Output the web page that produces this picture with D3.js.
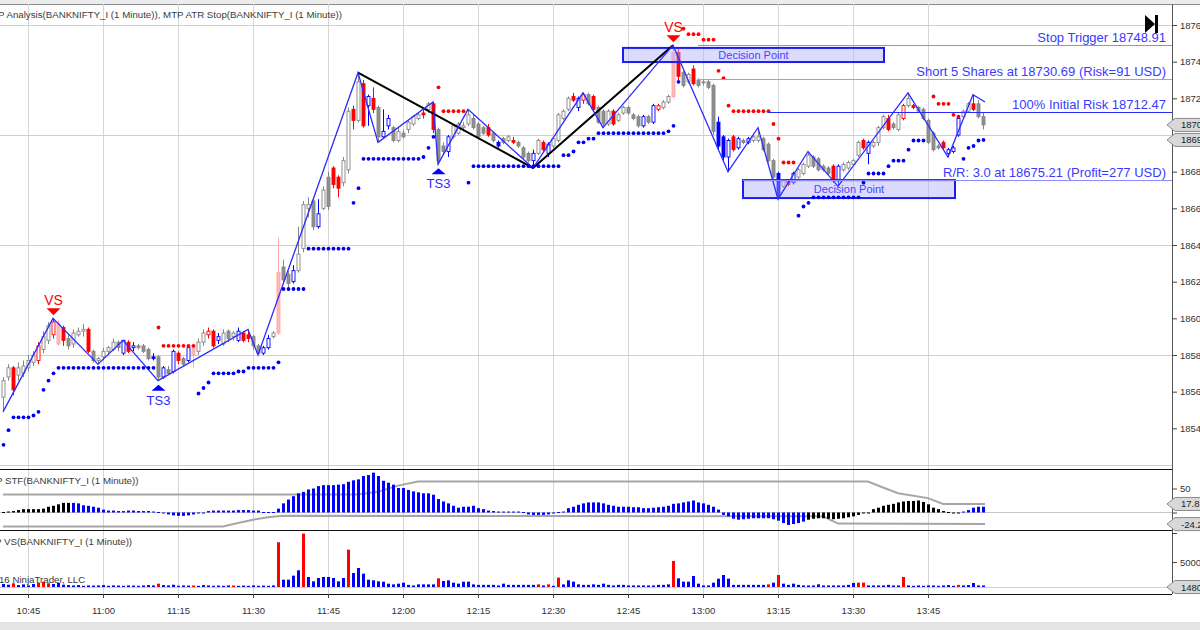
<!DOCTYPE html>
<html>
<head>
<meta charset="utf-8">
<script src="https://cdn.jsdelivr.net/npm/d3@7"></script>
<style>
body { margin: 0; background: #fff; overflow: hidden; }
svg text { font-family: "Liberation Sans", Arial, sans-serif; }
</style>
</head>
<body>
<svg id="chart" width="1200" height="630"></svg>
<script>
// 1 minute bars from 10:40, ten bars per line
var openP = [
  18557,18568,18573,18569,18570,18573,18576,18577,18583,18588,
  18591,18597,18595,18589,18586,18591,18593,18594,18582,18577,
  18579,18582,18583,18587,18581,18587,18584,18585,18585,18583,
  18579,18579,18568,18572,18571,18581,18578,18577,18585,18582,
  18587,18591,18593,18588,18586,18593,18590,18588,18592,18591,
  18590,18585,18581,18584,18590,18592,18628,18624,18620,18626,
  18638,18660,18664,18650,18660,18677,18682,18677,18674,18681,
  18714,18708,18728,18716,18720,18715,18699,18705,18704,18697,
  18701,18703,18706,18709,18712,18714,18717,18703,18694,18691,
  18699,18701,18704,18706,18709,18706,18704,18704,18701,18696,
  18698,18697,18697,18696,18693,18690,18686,18690,18696,18690,
  18694,18697,18709,18714,18721,18715,18719,18722,18721,18715,
  18713,18706,18713,18708,18712,18715,18711,18710,18705,18710,
  18707,18714,18715,18718,18721,18745,18734,18729,18736,18730,
  18729,18729,18727,18707,18699,18688,18699,18693,18697,18696,
  18697,18697,18698,18695,18686,18679,18672,18675,18674,18677,
  18679,18683,18688,18687,18683,18682,18683,18675,18681,18682,
  18684,18689,18697,18690,18694,18696,18704,18709,18706,18703,
  18709,18716,18716,18715,18714,18708,18701,18694,18696,18690,
  18691,18700,18710,18713,18717,18717,18710
];
var highP = [
  18568,18575,18574,18576,18577,18580,18582,18587,18593,18598,
  18600,18599,18596,18591,18594,18595,18597,18595,18583,18579,
  18584,18585,18589,18588,18588,18588,18587,18586,18586,18584,
  18581,18580,18574,18574,18583,18582,18579,18585,18586,18589,
  18594,18595,18594,18592,18594,18594,18593,18595,18593,18594,
  18591,18586,18585,18591,18593,18644,18632,18626,18629,18650,
  18664,18666,18666,18665,18672,18680,18683,18678,18688,18715,
  18716,18734,18730,18722,18726,18716,18714,18711,18705,18704,
  18703,18708,18711,18712,18714,18718,18718,18704,18696,18700,
  18706,18707,18707,18714,18711,18707,18705,18706,18702,18697,
  18699,18700,18699,18697,18694,18691,18692,18698,18697,18696,
  18699,18712,18714,18721,18723,18721,18723,18723,18722,18716,
  18714,18714,18714,18712,18716,18716,18712,18711,18711,18711,
  18717,18717,18719,18722,18749,18747,18735,18734,18738,18731,
  18730,18730,18728,18710,18700,18698,18700,18699,18698,18699,
  18700,18704,18699,18696,18687,18680,18676,18676,18680,18682,
  18685,18691,18689,18688,18684,18683,18684,18684,18685,18686,
  18687,18697,18698,18697,18697,18705,18711,18711,18707,18712,
  18717,18723,18717,18716,18715,18709,18702,18695,18697,18693,
  18694,18710,18714,18718,18722,18719,18712
];
var lowP = [
  18549,18566,18558,18566,18568,18571,18574,18575,18581,18586,
  18589,18585,18585,18583,18584,18590,18590,18581,18576,18575,
  18577,18580,18582,18582,18580,18581,18582,18583,18581,18577,
  18577,18566,18567,18569,18570,18575,18574,18576,18573,18580,
  18585,18589,18584,18586,18585,18587,18588,18587,18587,18587,
  18583,18580,18580,18583,18589,18591,18619,18617,18619,18625,
  18636,18655,18648,18649,18659,18659,18671,18666,18672,18679,
  18703,18707,18704,18705,18712,18696,18698,18703,18696,18696,
  18698,18701,18705,18708,18709,18712,18701,18684,18689,18688,
  18698,18700,18702,18705,18703,18698,18700,18699,18696,18693,
  18695,18696,18695,18693,18687,18685,18682,18689,18691,18688,
  18693,18696,18708,18713,18718,18713,18717,18716,18713,18706,
  18704,18705,18705,18707,18711,18711,18708,18704,18704,18706,
  18706,18713,18714,18717,18720,18730,18726,18728,18727,18726,
  18727,18725,18700,18692,18686,18680,18691,18692,18695,18695,
  18696,18696,18691,18685,18676,18665,18671,18672,18673,18676,
  18678,18682,18682,18680,18680,18678,18674,18672,18680,18681,
  18683,18688,18692,18684,18693,18694,18703,18702,18703,18702,
  18708,18715,18714,18712,18708,18695,18691,18692,18692,18688,
  18690,18699,18709,18712,18713,18709,18703
];
var closeP = [
  18566,18573,18561,18573,18574,18577,18580,18585,18590,18596,
  18598,18586,18588,18585,18592,18593,18594,18582,18577,18578,
  18582,18584,18587,18584,18588,18582,18585,18584,18582,18578,
  18578,18568,18573,18570,18582,18577,18575,18584,18580,18587,
  18592,18593,18585,18590,18592,18589,18592,18593,18588,18589,
  18585,18581,18584,18589,18592,18625,18621,18619,18626,18635,
  18662,18662,18650,18657,18670,18661,18673,18671,18686,18713,
  18708,18729,18705,18721,18714,18699,18702,18709,18697,18702,
  18699,18707,18710,18711,18711,18717,18703,18686,18691,18699,
  18705,18706,18705,18711,18704,18699,18701,18700,18697,18694,
  18696,18699,18696,18694,18688,18686,18690,18697,18692,18695,
  18698,18711,18713,18720,18719,18720,18722,18717,18714,18707,
  18706,18713,18706,18711,18715,18712,18709,18705,18710,18707,
  18716,18716,18718,18721,18745,18732,18727,18733,18728,18727,
  18729,18726,18702,18694,18688,18697,18692,18698,18696,18698,
  18699,18699,18692,18686,18677,18667,18675,18673,18679,18681,
  18684,18689,18683,18681,18681,18679,18675,18683,18684,18685,
  18686,18696,18693,18696,18696,18704,18710,18703,18704,18711,
  18716,18720,18715,18713,18709,18696,18692,18693,18693,18692,
  18693,18709,18713,18717,18714,18710,18705.5
];
// candle colour: g grey, r red, b blue, p pink
var barColors = ("ggrggggrgg" + "rprggggrgg" + "ggggbrbggg" + "bgbgbrgbpg" + "grrbgggbrr" +
                 "ggbbgpggbg" + "gggbggrrgg" + "rgrbrgbbgg" + "ggggrgrggb" + "gggggggrgb" +
                 "ggrgggbgrb" + "ggggrbrgrg" + "ggrgggggbg" + "brggprggrg" + "gggbbbrbgb" +
                 "gggggbgrbg" + "ggggggrbgg" + "ggrbgggrgg" + "rgrgggggrb" + "bbggrgg").split("");

// MTP ATR stop, one value per bar
var atrStop = [
  18531,18539,18546,18546,18546,18546,18547,18549,18561,18566,
  18570,18573,18573,18573,18573,18573,18573,18573,18573,18573,
  18573,18573,18573,18573,18573,18573,18573,18573,18573,18573,
  18573,18595,18585,18585,18585,18585,18585,18585,18585,18559,
  18562,18565,18570,18570,18570,18570,18570,18571,18571,18573,
  18573,18573,18573,18573,18573,18576,18616,18616,18616,18616,
  18616,18638,18638,18638,18638,18638,18638,18638,18638,18638,
  18663,18671,18687,18687,18687,18687,18687,18687,18687,18687,
  18687,18687,18687,18687,18688,18693,18699,18726,18713,18713,
  18713,18713,18713,18674,18683,18683,18683,18683,18683,18683,
  18683,18683,18683,18683,18683,18683,18683,18683,18683,18683,
  18683,18683,18689,18689,18691,18696,18696,18698,18698,18701,
  18701,18701,18701,18701,18701,18701,18701,18701,18701,18701,
  18701,18701,18701,18702,18705,18729,18758,18755,18755,18755,
  18752,18752,18752,18735,18731,18716,18713,18713,18713,18713,
  18713,18713,18713,18713,18706,18698,18685,18685,18685,18656,
  18661,18663,18666,18666,18666,18666,18666,18666,18666,18666,
  18666,18666,18674,18679,18679,18679,18679,18683,18686,18686,
  18686,18692,18697,18697,18697,null,18721,18717,18717,18717,
  18711,18710,18687,18693,18694,18697,18697.3
];

// zigzag swing points [bar, price]
var zigzag = [[0,18549],[10,18600],[19,18575],[24,18588],[31,18566],[49,18594],[51,18580],
  [71,18734],[75,18696],[86,18718],[87,18684],[93,18714],[106,18682],[116,18723],[120,18704],
  [134,18749],[145,18680],[151,18704],[155,18665],[161,18691],[167,18672],[181,18723],
  [189,18688],[194,18722],[196.4,18718]];
var trendLine = [[71,18734],[106,18682],[134,18749]];

var signals = [
  {bar: 10, name: "VS"}, {bar: 31, name: "TS3"}, {bar: 87, name: "TS3"}, {bar: 134, name: "VS"}
];

var zones = [
  {from: 124, to: 176.2, hi: 18747.5, lo: 18739.8, label: "Decision Point"},
  {from: 148, to: 190.4, hi: 18675.4, lo: 18665.6, label: "Decision Point"}
];

var levelPrices = [18748.91, 18730.69, 18712.47, 18675.21];
var levelLabels = ["Stop Trigger 18748.91", "Short 5 Shares at 18730.69 (Risk=91 USD)",
                   "100% Initial Risk 18712.47", "R/R: 3.0 at 18675.21 (Profit=277 USD)"];
var levelStart = [139, 139, 153, 148];
var levelColors = ["#8c8cff", "#9a9aff", "#2828ff", "#8c8cff"];

// STF histogram
var stf = [
  1,2,3,5,7,7,7,7,8,12,
  14,17,20,20,20,19,15,14,12,10,
  6,4,4,3,3,4,4,3,3,3,
  2,1,-2,-4,-6,-7,-7,-6,-4,-2,
  -1,3,4,4,4,4,4,5,5,5,
  4,4,1,1,1,8,19,27,34,40,
  43,48,50,55,57,57,57,58,59,64,
  67,69,76,78,83,76,66,62,58,51,
  51,47,44,42,40,40,37,28,23,19,
  14,10,12,12,14,9,7,4,3,2,
  2,2,2,2,1,-4,-5,-5,-5,-4,
  -1,1,2,9,12,16,19,21,21,21,
  19,16,14,12,12,12,11,11,9,9,
  10,11,12,14,18,19,21,23,25,21,
  19,16,12,6,-5,-8,-13,-15,-14,-13,
  -12,-12,-12,-12,-14,-17,-22,-26,-24,-22,
  -19,-15,-13,-12,-12,-13,-14,-13,-12,-10,
  -8,-5,-1,0,7,10,14,16,18,21,
  23,24,24,25,22,17,10,7,3,1,
  0,0,2,5,10,12,12
];
var stfColors = ("kkkkkkkkkk" + "kkkkbbbbbb" +
  "bbbbbbbbbb" + "bbbbbbbbbb" + "bbbbbbbbbb" + "bbbbbbbbbb" + "bbbbbbbbbb" + "bbbbbbbbbb" + "bbbbbbbbbb" +
  "bbbbbbbbbb" + "bbbbbbbbbb" + "bbbbbbbbbb" + "bbbbbbbbbb" + "bbbbbbbbbb" + "bbbbbbbbbb" + "bbbbbbbbbb" +
  "bkkkkkkkkk" + "kkkkkkkkkk" + "kkkkkkkkkk" + "kkbbbbb").split("");
var stfUpper = [[0,37.5],[71,37.5],[75,43],[79,56],[83,64.6],[173,64.6],[176,52],[179,40],[185,30],[188,17.8],[196.4,17.8]];
var stfLower = [[0,-29],[44,-29],[47,-22],[50,-15],[53,-10],[56,-7],[164,-8],[167,-23],[196.4,-24.2]];

// VS volume
var volume = [
  1900,1800,2000,1750,1850,1700,1900,2100,2200,2000,
  1900,2050,1800,1750,1700,1750,1650,1700,1680,1700,
  1750,1650,1700,1680,1650,1700,1680,1650,1700,1750,
  1700,1950,1750,1700,1800,1650,1700,1680,1700,1650,
  1750,1700,1650,1680,1650,1700,1700,1650,1680,1650,
  1700,1650,1680,1650,1700,7780,2510,2510,3080,3830,
  9000,2890,2280,2750,2890,2890,2750,2280,2750,6740,
  3450,4160,3360,2510,2420,2280,2230,1950,1850,1950,
  2090,1780,1700,1850,1850,1850,1850,2700,2330,2420,
  2090,1950,2230,2230,1850,1780,1780,1780,1780,1700,
  1950,1780,1780,1780,1780,1780,1780,1850,1700,1850,
  1650,2800,1850,2420,2230,1850,1780,1780,1850,1780,
  1950,1780,1700,1780,1780,1700,1700,1700,1700,1700,
  1700,1780,1780,1850,5150,2700,2230,2230,3030,1950,
  1700,1700,2090,2650,3170,2650,1780,1780,1780,1780,
  1780,1780,1780,1850,2090,3170,1950,1780,1950,1780,
  1700,1700,1700,1850,1700,1700,1700,1700,1700,1780,
  2050,2090,2090,1700,1700,1700,1700,1780,1700,1700,
  2890,1700,1650,1700,1650,1700,1700,1650,1700,1750,
  1650,1780,1700,1750,2040,1700,1700
];
var volColors = ("bbrbbbbrrr" + "bbbbbbbbbb" + "bbbbbbbbbb" + "brbbbbbbrb" + "bbbbbbrbbb" +
                 "bbbbbrbbbb" + "rbbbbbbbbr" + "bbbbbbbbbb" + "bbbbbbbrbb" + "bbbbbbbbbb" +
                 "bbbbbbbrbr" + "brbbbbbbbb" + "bbbbbbbbbb" + "bbbbrbbbbb" + "bbbbbbbbbb" +
                 "bbbrbrbbbb" + "bbbbbbbbbb" + "brrbbbbbbb" + "rbbbbbbbbb" + "brbbbbb").split("");

var priceTicks = [18540,18560,18580,18600,18620,18640,18660,18680,18700,18720,18740,18760];
var priceGrid = [18520,18580,18640,18700,18760];

var WIDTH = 1200, HEIGHT = 630;
var AXIS_X = 1172;
var TOP = 4, MAIN_BOTTOM = 469, STF_BOTTOM = 530, VS_BOTTOM = 594;
var FONT = "'Liberation Sans', Arial, sans-serif";

var svg = d3.select("#chart");
svg.append("rect").attr("width", WIDTH).attr("height", HEIGHT).attr("fill", "#fff");

var t0 = new Date(2016, 7, 1, 10, 40);
function barTime(i) { return new Date(t0.getTime() + i * 60000); }

var x = d3.scaleTime().domain([barTime(0), barTime(196)]).range([3, 983]);
var y = d3.scaleLinear().domain([18520, 18760]).range([465, 25]);
var yStf = d3.scaleLinear().domain([0, 50]).range([512.5, 488.5]);
var yVol = d3.scaleLinear().domain([1480, 5000]).range([587, 562]);

var defs = svg.append("defs");
defs.append("clipPath").attr("id", "clipMain").append("rect")
    .attr("x", 0).attr("y", TOP).attr("width", AXIS_X).attr("height", MAIN_BOTTOM - TOP);

// top strip and bottom scroll bar
svg.append("rect").attr("x", 0).attr("y", 0).attr("width", WIDTH).attr("height", TOP).attr("fill", "#ececec");
svg.append("line").attr("x1", 0).attr("x2", WIDTH).attr("y1", TOP + 0.5).attr("y2", TOP + 0.5).attr("stroke", "#8a8a8a");
svg.append("rect").attr("x", 0).attr("y", 622).attr("width", WIDTH).attr("height", 8).attr("fill", "#e4e4e4");

// grid
var timeTicks = x.ticks(d3.timeMinute.every(15));
svg.append("g").selectAll("line").data(timeTicks).enter().append("line")
    .attr("x1", function(d) { return Math.round(x(d)) + 0.5; })
    .attr("x2", function(d) { return Math.round(x(d)) + 0.5; })
    .attr("y1", TOP).attr("y2", VS_BOTTOM)
    .attr("stroke", "#d6d6d6");
svg.append("g").selectAll("line").data(priceGrid).enter().append("line")
    .attr("x1", 0).attr("x2", AXIS_X)
    .attr("y1", function(d) { return Math.round(y(d)) + 0.5; })
    .attr("y2", function(d) { return Math.round(y(d)) + 0.5; })
    .attr("stroke", "#cfcfcf");

// panel borders
[MAIN_BOTTOM, STF_BOTTOM, VS_BOTTOM].forEach(function(py) {
    svg.append("line").attr("x1", 0).attr("x2", AXIS_X).attr("y1", py + 0.5).attr("y2", py + 0.5)
        .attr("stroke", "#111");
});

var bars = d3.range(openP.length).map(function(i) {
    return {i: i, t: barTime(i), o: openP[i], h: highP[i], l: lowP[i], c: closeP[i], col: barColors[i]};
});

var CANDLE = {
    g: {line: "#858585", fill: "#8f8f8f"},
    r: {line: "#ff0000", fill: "#ff0000"},
    b: {line: "#0000ff", fill: "#0000ff"},
    p: {line: "#ffa8a8", fill: "#ffb8b8"}
};

var main = svg.append("g").attr("clip-path", "url(#clipMain)");

// candles
var candle = main.append("g").selectAll("g").data(bars).enter().append("g");
candle.append("line")
    .attr("x1", function(d) { return Math.round(x(d.t)) + 0.5; })
    .attr("x2", function(d) { return Math.round(x(d.t)) + 0.5; })
    .attr("y1", function(d) { return y(d.h); })
    .attr("y2", function(d) { return y(d.l); })
    .attr("stroke", function(d) { return CANDLE[d.col].line; });
candle.append("rect")
    .attr("x", function(d) { return Math.round(x(d.t)) - 1; })
    .attr("width", 3)
    .attr("y", function(d) { return y(Math.max(d.o, d.c)); })
    .attr("height", function(d) { return Math.max(1, Math.abs(y(d.o) - y(d.c))); })
    .attr("fill", function(d) { return (d.c < d.o || d.col == "p") ? CANDLE[d.col].fill : "#fff"; })
    .attr("stroke", function(d) { return CANDLE[d.col].line; })
    .attr("stroke-width", 0.9);

// decision point zones
var zone = main.append("g").selectAll("g").data(zones).enter().append("g");
zone.append("rect")
    .attr("x", function(d) { return x(barTime(d.from)); })
    .attr("y", function(d) { return y(d.hi); })
    .attr("width", function(d) { return x(barTime(d.to)) - x(barTime(d.from)); })
    .attr("height", function(d) { return y(d.lo) - y(d.hi); })
    .attr("fill", "rgba(175,175,250,0.45)")
    .attr("stroke", "#1c1cf0").attr("stroke-width", 2);
zone.append("text")
    .attr("x", function(d) { return (x(barTime(d.from)) + x(barTime(d.to))) / 2; })
    .attr("y", function(d) { return (y(d.lo) + y(d.hi)) / 2 + 4; })
    .attr("text-anchor", "middle")
    .attr("font-size", 11).attr("fill", "#4646ff")
    .text(function(d) { return d.label; });

// trend line and zigzag
var line = d3.line()
    .x(function(d) { return x(barTime(d[0])); })
    .y(function(d) { return y(d[1]); });
main.append("path").attr("d", line(trendLine)).attr("fill", "none")
    .attr("stroke", "#000").attr("stroke-width", 2);
main.append("path").attr("d", line(zigzag)).attr("fill", "none")
    .attr("stroke", "#2b2bff").attr("stroke-width", 1.3);

// ATR stop dots
main.append("g").selectAll("circle")
    .data(bars.filter(function(d) { return atrStop[d.i] != null; }))
    .enter().append("circle")
    .attr("cx", function(d) { return x(d.t) + 0.5; })
    .attr("cy", function(d) { return y(atrStop[d.i]); })
    .attr("r", 1.9)
    .attr("fill", function(d) { return atrStop[d.i] > d.c ? "#ff0000" : "#0000f0"; });

// signal markers
signals.forEach(function(s) {
    var cx = x(barTime(s.bar)) + 0.5;
    var b = bars[s.bar];
    if (s.name == "VS") {
        var tip = y(b.h) - 3;
        main.append("path")
            .attr("d", "M" + (cx - 7) + "," + (tip - 7) + "L" + (cx + 7) + "," + (tip - 7) + "L" + cx + "," + tip + "Z")
            .attr("fill", "#ff0000");
        main.append("text").attr("x", cx).attr("y", tip - 10).attr("text-anchor", "middle")
            .attr("font-size", 14).attr("fill", "#ff0000").text(s.name);
    } else {
        var tip2 = y(b.l) + 4;
        main.append("path")
            .attr("d", "M" + (cx - 7) + "," + (tip2 + 6) + "L" + (cx + 7) + "," + (tip2 + 6) + "L" + cx + "," + tip2 + "Z")
            .attr("fill", "#0000ff");
        main.append("text").attr("x", cx).attr("y", tip2 + 20).attr("text-anchor", "middle")
            .attr("font-size", 13).attr("fill", "#2a2aff").text(s.name);
    }
});

// trade levels
levelPrices.forEach(function(p, k) {
    var ly = Math.round(y(p)) + 0.5;
    main.append("line").attr("x1", x(barTime(levelStart[k]))).attr("x2", AXIS_X)
        .attr("y1", ly).attr("y2", ly)
        .attr("stroke", levelColors[k]).attr("stroke-width", 1.2);
    main.append("text").attr("x", 1166).attr("y", ly - 4).attr("text-anchor", "end")
        .attr("font-size", 13).attr("fill", "#3a3aff").text(levelLabels[k]);
});

// play-to-end icon
svg.append("path").attr("d", "M1145,15L1155,24L1145,33Z").attr("fill", "#000");
svg.append("rect").attr("x", 1155).attr("y", 15).attr("width", 3).attr("height", 18).attr("fill", "#000");

// STF panel
svg.append("line").attr("x1", 0).attr("x2", AXIS_X).attr("y1", yStf(0)).attr("y2", yStf(0))
    .attr("stroke", "#c8c8c8");
var bandLine = d3.line()
    .x(function(d) { return x(barTime(d[0])); })
    .y(function(d) { return yStf(d[1]); });
svg.append("path").attr("d", bandLine(stfUpper)).attr("fill", "none").attr("stroke", "#a6a6a6").attr("stroke-width", 2);
svg.append("path").attr("d", bandLine(stfLower)).attr("fill", "none").attr("stroke", "#a6a6a6").attr("stroke-width", 2);
svg.append("g").selectAll("rect").data(bars).enter().append("rect")
    .attr("x", function(d) { return Math.round(x(d.t)) - 1; })
    .attr("width", 3)
    .attr("y", function(d) { return Math.min(yStf(0), yStf(stf[d.i])); })
    .attr("height", function(d) { return Math.max(1, Math.abs(yStf(stf[d.i]) - yStf(0))); })
    .attr("fill", function(d) { return stfColors[d.i] == "k" ? "#000" : "#0000ff"; });

// VS panel
svg.append("line").attr("x1", 0).attr("x2", AXIS_X).attr("y1", yVol(1480) + 0.5).attr("y2", yVol(1480) + 0.5)
    .attr("stroke", "#d0d0d0");
svg.append("g").selectAll("rect").data(bars).enter().append("rect")
    .attr("x", function(d) { return Math.round(x(d.t)) - 1; })
    .attr("width", 3)
    .attr("y", function(d) { return yVol(volume[d.i]); })
    .attr("height", function(d) { return yVol(1480) - yVol(volume[d.i]); })
    .attr("fill", function(d) { return volColors[d.i] == "r" ? "#ff0000" : "#0000ff"; });

// panel titles (the leading part is cut by the left edge, as in the original)
function title(tx, ty, str) {
    svg.append("text").attr("x", tx).attr("y", ty).attr("font-size", 9.7).attr("fill", "#3a3a3a").text(str);
}
title(-16, 18, "MTP Analysis(BANKNIFTY_I (1 Minute)), MTP ATR Stop(BANKNIFTY_I (1 Minute))");
title(-18, 484, "MTP STF(BANKNIFTY_I (1 Minute))");
title(-19, 545, "MTP VS(BANKNIFTY_I (1 Minute))");
title(-19, 583, "\u00a92016 NinjaTrader, LLC");

// axes
svg.append("line").attr("x1", AXIS_X + 0.5).attr("x2", AXIS_X + 0.5).attr("y1", TOP).attr("y2", VS_BOTTOM)
    .attr("stroke", "#555");

function styleAxis(g) {
    g.select(".domain").remove();
    g.attr("font-family", FONT);
    g.selectAll("text").attr("font-size", 9.5).attr("fill", "#333");
    g.selectAll("line").attr("stroke", "#444");
}
// the 18700 label sits behind the value markers, so only its mark shows
svg.append("g").attr("transform", "translate(" + AXIS_X + ",0)")
    .call(d3.axisRight(y).tickValues(priceTicks).tickSize(5).tickPadding(3)
        .tickFormat(function(d) { return d == 18700 ? "" : d3.format("d")(d); }))
    .call(styleAxis);
svg.append("g").attr("transform", "translate(" + AXIS_X + ",0)")
    .call(d3.axisRight(yStf).tickValues([50, 0]).tickSize(5).tickPadding(3)
        .tickFormat(function(d) { return d == 0 ? "" : d; }))
    .call(styleAxis);
svg.append("g").attr("transform", "translate(" + AXIS_X + ",0)")
    .call(d3.axisRight(yVol).tickValues([5000]).tickSize(5).tickPadding(3).tickFormat(d3.format("d")))
    .call(styleAxis);
svg.append("line").attr("x1", AXIS_X).attr("x2", AXIS_X + 5).attr("y1", 533.5).attr("y2", 533.5).attr("stroke", "#444");

svg.append("g").attr("transform", "translate(0," + VS_BOTTOM + ")")
    .call(d3.axisBottom(x).ticks(d3.timeMinute.every(15)).tickFormat(d3.timeFormat("%H:%M")).tickSize(4).tickPadding(9))
    .call(styleAxis);

// value markers on the price scale
function marker(my, str) {
    svg.append("path")
        .attr("d", "M1167," + my + "L1175," + (my - 6.5) + "L1201," + (my - 6.5) + "L1201," + (my + 6.5) + "L1175," + (my + 6.5) + "Z")
        .attr("fill", "#d8d8d8").attr("stroke", "#8a8a8a");
    svg.append("text").attr("x", 1181).attr("y", my + 3.5).attr("font-size", 9.5).attr("fill", "#222").text(str);
}
marker(y(closeP[196]), d3.format(".2f")(closeP[196]));
marker(y(atrStop[196]), d3.format(".2f")(atrStop[196]));
marker(yStf(stfUpper[stfUpper.length - 1][1]), stfUpper[stfUpper.length - 1][1]);
marker(yStf(stfLower[stfLower.length - 1][1]), stfLower[stfLower.length - 1][1]);
marker(yVol(1480), "1480");
</script>
</body>
</html>
